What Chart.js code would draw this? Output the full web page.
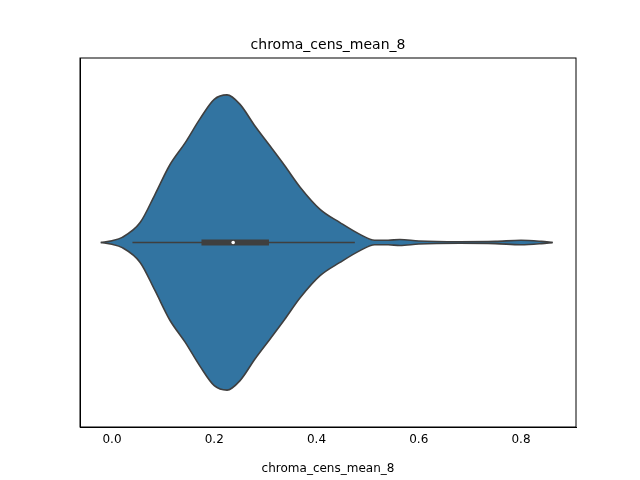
<!DOCTYPE html>
<html><head><script src="https://cdn.jsdelivr.net/npm/chart.js"></script>
<style>body{margin:0;background:#fff}#w{width:640px;height:480px}</style></head>
<body><div id="w"><canvas id="c"></canvas></div>
<script>
const xs =      [-0.022,0.0,0.02,0.055,0.084,0.113,0.143,0.172,0.2,0.225,0.25,0.28,0.31,0.338,0.368,0.407,0.446,0.485,0.514,0.54,0.563,0.6,0.68,0.75,0.8,0.84,0.862];
const halfW =   [0,0.005,0.014,0.054,0.13,0.21,0.27,0.335,0.388,0.4,0.375,0.315,0.26,0.208,0.15,0.09,0.054,0.022,0.006,0.006,0.008,0.004,0.002,0.003,0.006,0.003,0];
const whisker = [0.04,0.475];
const box = [0.175,0.307];
const median = 0.237;
const xTicks = [0.0,0.2,0.4,0.6,0.8];
const titleText = 'chroma_cens_mean_8';
const up = xs.map((x,i)=>({x,y:halfW[i]}));
const lo = xs.map((x,i)=>({x,y:-halfW[i]}));
const f = "DejaVu Sans";
const frame = {id:'frame',afterDraw(c){const a=c.chartArea,g=c.ctx;g.save();g.strokeStyle='#000';g.lineWidth=1;g.strokeRect(a.left,a.top,a.right-a.left,a.bottom-a.top);
g.fillStyle='#000';g.font='14px "DejaVu Sans"';g.textAlign='center';g.textBaseline='alphabetic';g.fillText(titleText,(a.left+a.right)/2,49);g.restore();}};
new Chart(document.getElementById('c'),{
type:'line',
data:{datasets:[
{data:up,borderColor:'#3f3f3f',borderWidth:1.6,pointRadius:0,cubicInterpolationMode:'monotone',fill:false,order:5},
{data:lo,borderColor:'#3f3f3f',borderWidth:1.6,pointRadius:0,cubicInterpolationMode:'monotone',fill:'-1',backgroundColor:'#3274a1',order:5},
{data:whisker.map(x=>({x,y:0})),borderColor:'#3f3f3f',borderWidth:1.6,pointRadius:0,order:2},
{data:box.map(x=>({x,y:0})),borderColor:'#3f3f3f',borderWidth:6,pointRadius:0,borderCapStyle:'butt',order:1},
{data:[{x:median,y:0}],showLine:false,pointRadius:1.8,pointBackgroundColor:'#fff',pointBorderWidth:0,order:0}
]},
options:{animation:false,responsive:true,maintainAspectRatio:false,
layout:{padding:{right:64,left:0,top:58,bottom:0}},
plugins:{legend:{display:false},tooltip:{enabled:false},title:{display:false}},
scales:{
x:{type:'linear',min:-0.0626,max:0.9076,grid:{display:false,drawTicks:true,tickLength:4,tickColor:'#000'},border:{color:'#000'},
 afterBuildTicks:a=>{a.ticks=xTicks.map(v=>({value:v}))},
 afterFit:a=>{a.height=53},
 ticks:{color:'#000',font:{family:f,size:12},callback:v=>v.toFixed(1),maxRotation:0,autoSkip:false,padding:2},
 title:{display:true,text:'chroma_cens_mean_8',color:'#000',font:{family:f,size:12},padding:{top:2}}},
y:{min:-0.5,max:0.5,grid:{display:false,tickLength:4,tickColor:'#000'},border:{color:'#000'},
 afterBuildTicks:a=>{a.ticks=[{value:0}]},
 afterFit:a=>{a.width=80},
 ticks:{callback:()=>''}}
}},plugins:[frame]});
</script></body></html>
